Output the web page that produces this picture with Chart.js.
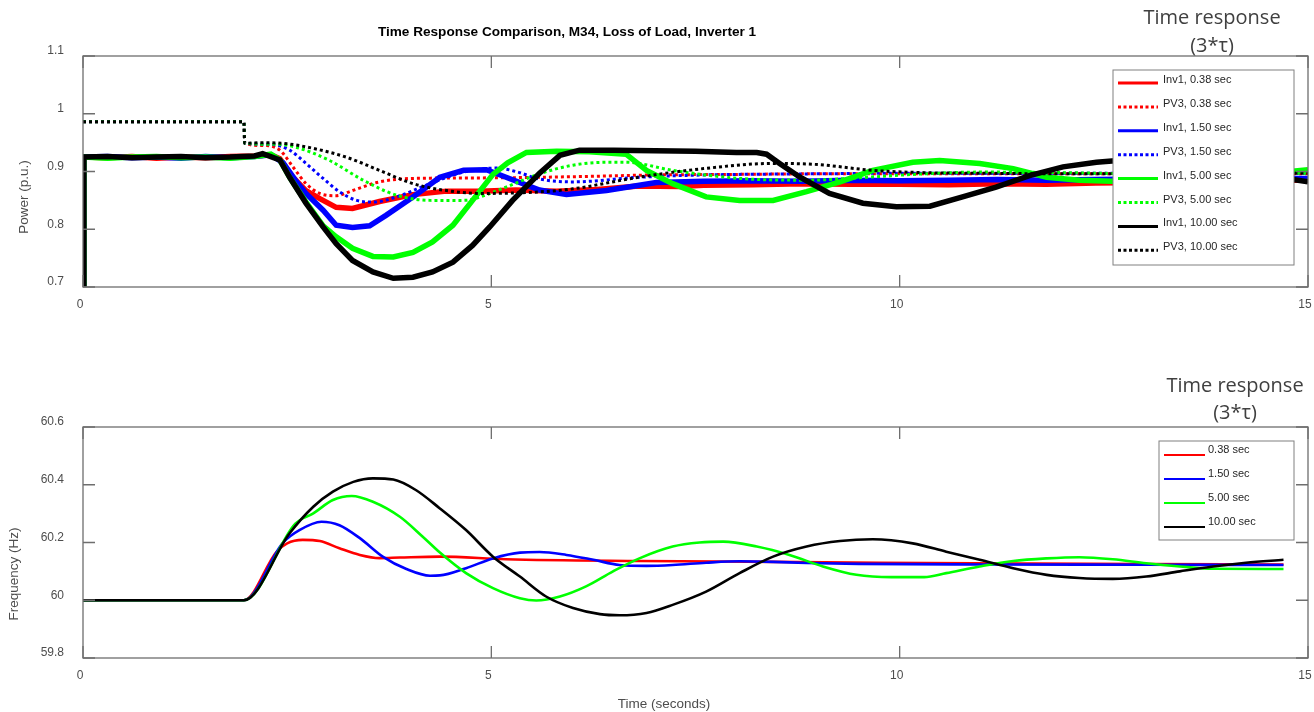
<!DOCTYPE html>
<html>
<head>
<meta charset="utf-8">
<script src="https://cdn.jsdelivr.net/npm/chart.js@4.4.1/dist/chart.umd.min.js"></script>
<style>
  body { margin: 0; background: #fff; width: 1314px; height: 712px; position: relative; overflow: hidden;
         font-family: "Liberation Sans", Arial, sans-serif; }
  canvas { position: absolute; left: 0; }
  #grafPotencia { top: 0; }
  #grafFrecuencia { top: 340px; }
  .txt { position: absolute; white-space: nowrap; color: #4d4d4d; font-size: 13.5px; transform: translate(-50%, -50%); }
  .rot { transform: translate(-50%, -50%) rotate(-90deg); }
  .titulo { color: #000; font-weight: bold; font-size: 13.6px; }
  .nota { position: absolute; font-family: "Open Sans", sans-serif; font-size: 20px; color: #404040;
          text-align: center; line-height: 28px; transform: translateX(-50%); white-space: nowrap; }
</style>
</head>
<body>
<canvas id="grafPotencia" width="1314" height="320"></canvas>
<canvas id="grafFrecuencia" width="1314" height="372"></canvas>

<div class="txt titulo" style="left:567px; top:31px;">Time Response Comparison, M34, Loss of Load, Inverter 1</div>
<div class="txt rot" style="left:23px; top:197px;">Power (p.u.)</div>
<div class="txt rot" style="left:13px; top:574px;">Frequency (Hz)</div>
<div class="txt" style="left:664px; top:703px;">Time (seconds)</div>
<div class="nota" style="left:1212px; top:3px;">Time response<br>(3*τ)</div>
<div class="nota" style="left:1235px; top:371px; line-height:27px;">Time response<br>(3*τ)</div>

<script>
// --- Datos (tiempo en segundos) ---

// Potencia, Inv1 (líneas continuas con ruido)
const inv038T = [0, 0.01, 0.3, 0.6, 0.9, 1.2, 1.5, 1.8, 2.1, 2.3, 2.41, 2.57, 2.73, 2.9, 3.1, 3.3, 3.63, 4.04, 4.45, 4.86, 5.3, 5.8, 6.3, 6.8, 7.3, 7.6, 8.2, 8.8, 9.4, 10, 10.6, 11.2, 11.8, 12.4, 13, 13.6, 14.2, 14.7, 15];
const inv038P = [0.6, 0.925, 0.924, 0.926, 0.923, 0.925, 0.924, 0.926, 0.927, 0.929, 0.922, 0.89, 0.867, 0.853, 0.838, 0.836, 0.848, 0.86, 0.866, 0.866, 0.868, 0.866, 0.869, 0.875, 0.874, 0.876, 0.877, 0.879, 0.878, 0.878, 0.877, 0.879, 0.878, 0.88, 0.881, 0.882, 0.884, 0.885, 0.885];

const inv150T = [0, 0.01, 0.3, 0.6, 0.9, 1.2, 1.5, 1.8, 2.1, 2.3, 2.45, 2.6, 2.73, 2.94, 3.1, 3.3, 3.51, 3.71, 4.04, 4.37, 4.66, 4.94, 5.18, 5.59, 5.92, 6.41, 7.02, 7.6, 8.2, 8.8, 9.4, 10, 10.6, 11.2, 11.8, 12.4, 13, 13.6, 14.2, 15];
const inv150P = [0.6, 0.925, 0.926, 0.924, 0.925, 0.923, 0.926, 0.924, 0.926, 0.929, 0.915, 0.885, 0.862, 0.833, 0.807, 0.803, 0.806, 0.824, 0.856, 0.89, 0.902, 0.903, 0.89, 0.868, 0.86, 0.867, 0.881, 0.883, 0.884, 0.883, 0.885, 0.884, 0.885, 0.886, 0.885, 0.886, 0.887, 0.887, 0.888, 0.888];

const inv500T = [0, 0.01, 0.3, 0.6, 0.9, 1.2, 1.5, 1.8, 2.1, 2.3, 2.41, 2.53, 2.73, 2.94, 3.1, 3.3, 3.55, 3.8, 4.04, 4.28, 4.53, 4.77, 5.02, 5.2, 5.43, 5.8, 6.2, 6.65, 6.9, 7.22, 7.63, 8.04, 8.45, 8.86, 9.27, 9.67, 10.16, 10.49, 10.98, 11.39, 11.8, 12.2, 12.6, 13.2, 13.8, 14.4, 15];
const inv500P = [0.6, 0.925, 0.923, 0.925, 0.926, 0.924, 0.925, 0.923, 0.926, 0.93, 0.92, 0.89, 0.847, 0.806, 0.787, 0.767, 0.753, 0.752, 0.76, 0.778, 0.807, 0.85, 0.895, 0.915, 0.933, 0.935, 0.934, 0.93, 0.902, 0.879, 0.856, 0.85, 0.85, 0.865, 0.882, 0.902, 0.916, 0.919, 0.914, 0.905, 0.89, 0.885, 0.883, 0.883, 0.888, 0.895, 0.903];

const inv1000T = [0, 0.01, 0.3, 0.6, 0.9, 1.2, 1.5, 1.8, 2.1, 2.2, 2.41, 2.53, 2.73, 2.94, 3.1, 3.3, 3.55, 3.8, 4.04, 4.28, 4.53, 4.77, 4.98, 5.26, 5.59, 5.84, 6.08, 6.5, 7.0, 7.5, 8.0, 8.25, 8.37, 8.53, 8.77, 9.14, 9.55, 9.96, 10.37, 10.77, 11.18, 11.59, 12.0, 12.41, 12.6, 13.2, 13.8, 14.4, 15];
const inv1000P = [0.6, 0.925, 0.926, 0.924, 0.925, 0.926, 0.924, 0.925, 0.927, 0.931, 0.92, 0.89, 0.845, 0.804, 0.775, 0.746, 0.726, 0.715, 0.717, 0.726, 0.743, 0.772, 0.804, 0.85, 0.897, 0.928, 0.937, 0.937, 0.936, 0.935, 0.933, 0.933, 0.93, 0.914, 0.891, 0.862, 0.845, 0.839, 0.84, 0.856, 0.873, 0.893, 0.908, 0.916, 0.918, 0.92, 0.912, 0.895, 0.882];

// Potencia, PV3 (líneas punteadas)
const pv038T = [0, 1.97, 1.98, 2.2, 2.41, 2.57, 2.73, 2.9, 3.1, 3.3, 3.63, 4.04, 5, 6, 7, 8, 9, 10, 11, 12, 13, 14, 15];
const pv038P = [0.986, 0.986, 0.949, 0.945, 0.937, 0.908, 0.879, 0.862, 0.858, 0.867, 0.882, 0.888, 0.889, 0.891, 0.894, 0.895, 0.896, 0.896, 0.896, 0.896, 0.896, 0.896, 0.896];

const pv150T = [0, 1.97, 1.98, 2.3, 2.53, 2.73, 2.94, 3.14, 3.35, 3.55, 3.84, 4.25, 4.66, 5.06, 5.3, 5.59, 6, 6.8, 7.6, 9, 10, 11, 12, 13, 14, 15];
const pv150P = [0.986, 0.986, 0.949, 0.947, 0.937, 0.914, 0.888, 0.865, 0.85, 0.847, 0.856, 0.879, 0.899, 0.906, 0.9, 0.887, 0.882, 0.89, 0.894, 0.896, 0.897, 0.897, 0.897, 0.897, 0.897, 0.897];

const pv500T = [0, 1.97, 1.98, 2.4, 2.61, 3.02, 3.43, 3.84, 4.25, 4.66, 4.77, 5.18, 5.59, 6, 6.41, 6.65, 7.22, 8.04, 8.86, 9.6, 10.3, 11, 12, 13, 14, 15];
const pv500P = [0.986, 0.986, 0.949, 0.947, 0.942, 0.919, 0.885, 0.859, 0.85, 0.85, 0.852, 0.873, 0.896, 0.911, 0.916, 0.916, 0.902, 0.888, 0.885, 0.89, 0.896, 0.899, 0.898, 0.896, 0.896, 0.897];

const pv1000T = [0, 1.97, 1.98, 2.2, 2.5, 2.82, 3.22, 3.63, 4.04, 4.45, 4.86, 5.5, 6, 6.8, 7.6, 8.45, 9.0, 9.67, 10.3, 11, 12, 13, 14, 15];
const pv1000P = [0.986, 0.986, 0.949, 0.95, 0.948, 0.94, 0.925, 0.902, 0.879, 0.867, 0.862, 0.864, 0.87, 0.89, 0.905, 0.914, 0.912, 0.902, 0.898, 0.897, 0.896, 0.896, 0.897, 0.897];

// Frecuencia (Hz)
const f038T = [0, 1.97, 2.37, 2.5, 2.69, 2.9, 3.14, 3.39, 3.63, 3.88, 4.37, 5.18, 6.82, 8.45, 9.75, 11.5, 13, 14.7];
const f038V = [60, 60, 60.168, 60.197, 60.209, 60.205, 60.18, 60.157, 60.146, 60.148, 60.151, 60.142, 60.136, 60.133, 60.13, 60.127, 60.125, 60.124];

const f150T = [0, 1.97, 2.45, 2.65, 2.92, 3.14, 3.39, 3.67, 3.96, 4.25, 4.37, 4.69, 5.02, 5.35, 5.59, 5.92, 6.25, 6.57, 6.9, 7.22, 7.63, 8.04, 8.45, 8.86, 9.5, 11, 13, 14.7];
const f150V = [60, 60, 60.2, 60.243, 60.272, 60.26, 60.215, 60.151, 60.108, 60.085, 60.086, 60.111, 60.145, 60.165, 60.167, 60.157, 60.14, 60.122, 60.119, 60.122, 60.13, 60.135, 60.133, 60.129, 60.126, 60.124, 60.123, 60.122];

const f500T = [0, 1.97, 2.6, 2.82, 3.06, 3.29, 3.55, 3.88, 4.16, 4.37, 4.69, 5.02, 5.35, 5.55, 5.84, 6.16, 6.49, 6.82, 7.22, 7.55, 7.84, 8.25, 8.65, 9.06, 9.47, 9.9, 10.3, 10.57, 10.98, 11.39, 11.8, 12.2, 12.61, 13.02, 13.43, 13.84, 14.7];
const f500V = [60, 60, 60.265, 60.301, 60.347, 60.361, 60.341, 60.289, 60.22, 60.165, 60.094, 60.042, 60.007, 59.999, 60.013, 60.048, 60.1, 60.146, 60.186, 60.2, 60.203, 60.186, 60.157, 60.117, 60.088, 60.08, 60.08, 60.094, 60.117, 60.136, 60.145, 60.149, 60.142, 60.128, 60.117, 60.109, 60.108];

const f1000T = [0, 1.97, 2.53, 2.82, 3.06, 3.31, 3.55, 3.8, 4.08, 4.37, 4.69, 5.02, 5.35, 5.67, 6.0, 6.33, 6.57, 6.9, 7.22, 7.63, 8.04, 8.45, 8.86, 9.27, 9.67, 10.16, 10.57, 10.98, 11.39, 11.8, 12.2, 12.61, 13.02, 13.43, 13.84, 14.24, 14.7];
const f1000V = [60, 60, 60.232, 60.324, 60.376, 60.41, 60.422, 60.418, 60.381, 60.318, 60.243, 60.151, 60.082, 60.013, 59.973, 59.952, 59.948, 59.956, 59.984, 60.03, 60.094, 60.151, 60.186, 60.205, 60.211, 60.197, 60.168, 60.14, 60.111, 60.088, 60.077, 60.074, 60.082, 60.1, 60.117, 60.13, 60.14];

// Marcas de los ejes
const xTicks = [0, 5, 10, 15];
const potTicks = [0.7, 0.8, 0.9, 1, 1.1];
const frecTicks = [59.8, 60, 60.2, 60.4, 60.6];

// Colores estilo MATLAB
const ROJO = '#ff0000', AZUL = '#0000ff', VERDE = '#00ff00', NEGRO = '#000000';
const FUENTE = '"Liberation Sans", Arial, sans-serif';

// --- Funciones auxiliares ---
function puntos(t, v) {
  return t.map((x, i) => ({ x: x, y: v[i] }));
}

// los últimos datasets se dibujan encima (como en MATLAB)
function ordenar(datasets) {
  datasets.forEach((d, i) => { d.order = datasets.length - 1 - i; });
  return datasets;
}

// Marco con marcas hacia adentro en los cuatro lados
const marcoMatlab = {
  id: 'marcoMatlab',
  afterDatasetsDraw(chart) {
    const { ctx, chartArea: a, scales } = chart;
    ctx.save();
    ctx.strokeStyle = '#6e6e6e';
    ctx.lineWidth = 1.3;
    ctx.strokeRect(a.left, a.top, a.right - a.left, a.bottom - a.top);
    ctx.beginPath();
    scales.x.ticks.forEach(t => {
      const px = scales.x.getPixelForValue(t.value);
      ctx.moveTo(px, a.bottom); ctx.lineTo(px, a.bottom - 12);
      ctx.moveTo(px, a.top); ctx.lineTo(px, a.top + 12);
    });
    scales.y.ticks.forEach(t => {
      const py = scales.y.getPixelForValue(t.value);
      ctx.moveTo(a.left, py); ctx.lineTo(a.left + 12, py);
      ctx.moveTo(a.right, py); ctx.lineTo(a.right - 12, py);
    });
    ctx.stroke();
    ctx.restore();
  }
};

// Leyenda dentro de una caja blanca, posición fija
const cajaLeyenda = {
  id: 'cajaLeyenda',
  afterDatasetsDraw(chart, args, o) {
    const ctx = chart.ctx;
    ctx.save();
    ctx.fillStyle = '#fff';
    ctx.fillRect(o.x, o.y, o.w, o.h);
    ctx.strokeStyle = '#808080';
    ctx.lineWidth = 1;
    ctx.strokeRect(o.x, o.y, o.w, o.h);
    ctx.font = '11px ' + FUENTE;
    ctx.textBaseline = 'middle';
    chart.data.datasets.forEach((ds, i) => {
      const y = o.y + o.primera + i * o.paso;
      ctx.strokeStyle = ds.borderColor;
      ctx.lineWidth = o.grosor;
      ctx.setLineDash(ds.borderDash ? [3, 2.5] : []);
      ctx.beginPath();
      ctx.moveTo(o.x + 5, y);
      ctx.lineTo(o.x + 5 + o.muestra, y);
      ctx.stroke();
      ctx.setLineDash([]);
      ctx.fillStyle = '#262626';
      ctx.fillText(ds.label, o.x + o.texto, y - o.subir);
    });
    ctx.restore();
  }
};

function ejes(yMin, yMax, yTicks, alturaX) {
  return {
    x: {
      type: 'linear', min: 0, max: 15,
      afterBuildTicks: s => { s.ticks = xTicks.map(v => ({ value: v })); },
      // sin relleno extra por las etiquetas de los extremos
      afterFit: s => { s.height = alturaX; s.paddingLeft = 0; s.paddingRight = 0; },
      grid: { display: false, drawTicks: false },
      border: { display: false },
      ticks: { padding: 10, labelOffset: -3, color: '#4d4d4d', font: { family: FUENTE, size: 12 } }
    },
    y: {
      type: 'linear', min: yMin, max: yMax,
      afterBuildTicks: s => { s.ticks = yTicks.map(v => ({ value: v })); },
      afterFit: s => { s.width = 83; s.paddingTop = 0; s.paddingBottom = 0; },
      grid: { display: false, drawTicks: false },
      border: { display: false },
      ticks: {
        padding: 19, labelOffset: -5, color: '#4d4d4d', font: { family: FUENTE, size: 12 },
        callback: v => String(parseFloat(v.toFixed(2)))
      }
    }
  };
}

// --- Gráfico de potencia ---
const serieInv = (label, color, t, v) => ({
  label: label, data: puntos(t, v), borderColor: color, borderWidth: 5.5,
  pointRadius: 0, tension: 0, clip: 0
});
const seriePV = (label, color, t, v) => ({
  label: label, data: puntos(t, v), borderColor: color, borderWidth: 3,
  borderDash: [3, 3], borderCapStyle: 'butt', pointRadius: 0, cubicInterpolationMode: 'monotone'
});

new Chart(document.getElementById('grafPotencia'), {
  type: 'line',
  data: {
    datasets: ordenar([
      serieInv('Inv1, 0.38 sec', ROJO, inv038T, inv038P),
      seriePV('PV3, 0.38 sec', ROJO, pv038T, pv038P),
      serieInv('Inv1, 1.50 sec', AZUL, inv150T, inv150P),
      seriePV('PV3, 1.50 sec', AZUL, pv150T, pv150P),
      serieInv('Inv1, 5.00 sec', VERDE, inv500T, inv500P),
      seriePV('PV3, 5.00 sec', VERDE, pv500T, pv500P),
      serieInv('Inv1, 10.00 sec', NEGRO, inv1000T, inv1000P),
      seriePV('PV3, 10.00 sec', NEGRO, pv1000T, pv1000P)
    ])
  },
  options: {
    responsive: false,
    animation: false,
    layout: { padding: { top: 56, right: 6, left: 0, bottom: 0 }, autoPadding: false },
    scales: ejes(0.7, 1.1, potTicks, 33),
    plugins: {
      legend: { display: false },
      tooltip: { enabled: false },
      cajaLeyenda: { x: 1113, y: 70, w: 181, h: 195, primera: 13, paso: 23.9, muestra: 40, texto: 50, grosor: 3, subir: 3 }
    }
  },
  plugins: [marcoMatlab, cajaLeyenda]
});

// --- Gráfico de frecuencia ---
const serieF = (label, color, t, v) => ({
  label: label, data: puntos(t, v), borderColor: color, borderWidth: 2.6,
  pointRadius: 0, cubicInterpolationMode: 'monotone'
});

new Chart(document.getElementById('grafFrecuencia'), {
  type: 'line',
  data: {
    datasets: ordenar([
      serieF('0.38 sec', ROJO, f038T, f038V),
      serieF('1.50 sec', AZUL, f150T, f150V),
      serieF('5.00 sec', VERDE, f500T, f500V),
      serieF('10.00 sec', NEGRO, f1000T, f1000V)
    ])
  },
  options: {
    responsive: false,
    animation: false,
    layout: { padding: { top: 87, right: 6, left: 0, bottom: 0 }, autoPadding: false },
    scales: ejes(59.8, 60.6, frecTicks, 54),
    plugins: {
      legend: { display: false },
      tooltip: { enabled: false },
      cajaLeyenda: { x: 1159, y: 101, w: 135, h: 99, primera: 14, paso: 24, muestra: 41, texto: 49, grosor: 2.2, subir: 5 }
    }
  },
  plugins: [marcoMatlab, cajaLeyenda]
});
</script>
</body>
</html>
